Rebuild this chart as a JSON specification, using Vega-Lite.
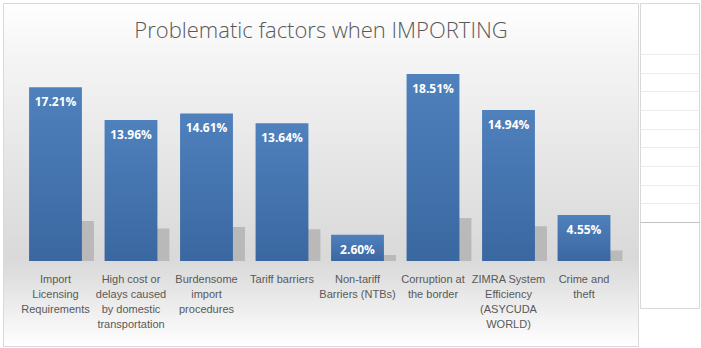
{
  "$schema": "https://vega.github.io/schema/vega-lite/v6.json",
  "background": "#ffffff",
  "padding": {"left": 2, "top": 2, "right": 0, "bottom": 0},
  "spacing": 2,
  "bounds": "flush",
  "config": {"view": {"stroke": "#d9d9d9", "strokeWidth": 1}, "font": "Liberation Sans"},
  "hconcat": [
    {
      "width": 635,
      "height": 343,
      "view": {
        "stroke": "#d9d9d9",
        "fill": {
          "gradient": "linear", "x1": 0, "y1": 0, "x2": 0, "y2": 1,
          "stops": [
            {"offset": 0, "color": "#ffffff"},
            {"offset": 0.15, "color": "#f5f5f5"},
            {"offset": 0.45, "color": "#e6e6e6"},
            {"offset": 0.74, "color": "#d9d9d9"},
            {"offset": 0.8, "color": "#e0e0e0"},
            {"offset": 1, "color": "#ffffff"}
          ]
        }
      },
      "data": {"values": [
        {"factor": "Import|Licensing|Requirements", "value": 0.1721},
        {"factor": "High cost or|delays caused|by domestic|transportation", "value": 0.1396},
        {"factor": "Burdensome|import|procedures", "value": 0.1461},
        {"factor": "Tariff barriers", "value": 0.1364},
        {"factor": "Non-tariff|Barriers (NTBs)", "value": 0.026},
        {"factor": "Corruption at|the border", "value": 0.1851},
        {"factor": "ZIMRA System|Efficiency|(ASYCUDA|WORLD)", "value": 0.1494},
        {"factor": "Crime and|theft", "value": 0.0455}
      ]},
      "encoding": {
        "x": {
          "field": "factor", "type": "nominal", "sort": null,
          "scale": {"range": [14.75, 618.75], "paddingInner": 0.3, "paddingOuter": 0.15},
          "axis": {
            "orient": "bottom", "offset": -85, "title": null, "domain": false, "ticks": false, "tickSize": 0,
            "labelAngle": 0, "labelPadding": 12, "labelFont": "Liberation Sans", "labelFontSize": 11,
            "labelColor": "#595959", "labelLineHeight": 15, "labelBaseline": "top",
            "labelExpr": "split(datum.label, '|')", "labelLimit": 200
          }
        }
      },
      "layer": [
        {
          "mark": {"type": "bar", "color": "#b0b0b0", "opacity": 0.8, "xOffset": 12},
          "encoding": {
            "y": {
              "field": "value", "type": "quantitative", "scale": {"domain": [0, 0.87], "range": [258, 56]},
              "axis": {
                "orient": "left", "labels": false, "ticks": false, "domain": false, "grid": false,
                "title": "Problematic factors when IMPORTING", "titleAngle": 0,
                "titleX": 317.5, "titleY": 34, "titleAlign": "center", "titleBaseline": "alphabetic",
                "titleFont": "Open Sans", "titleFontSize": 22, "titleFontWeight": 300, "titleColor": "#595959",
                "titlePadding": 0
              }
            }
          }
        },
        {
          "mark": {"type": "bar", "color": {
            "gradient": "linear", "x1": 0, "y1": 0, "x2": 0, "y2": 1,
            "stops": [{"offset": 0, "color": "#4f81bd"}, {"offset": 1, "color": "#3a67a0"}]
          }},
          "encoding": {
            "y": {"field": "value", "type": "quantitative", "scale": {"domain": [0, 0.2], "range": [258, 56]}, "axis": null}
          }
        },
        {
          "mark": {"type": "text", "color": "#ffffff", "font": "Open Sans", "fontWeight": "bold", "fontSize": 12, "baseline": "middle", "dy": 15},
          "encoding": {
            "y": {"field": "value", "type": "quantitative", "scale": {"domain": [0, 0.2], "range": [258, 56]}, "axis": null},
            "text": {"field": "value", "type": "quantitative", "format": ".2%"}
          }
        }
      ],
      "resolve": {"scale": {"y": "independent"}}
    },
    {
      "width": 59,
      "height": 305,
      "view": {"stroke": "#d9d9d9", "fill": "#ffffff"},
      "data": {"values": [{"v": 0}]},
      "mark": {"type": "point", "opacity": 0},
      "encoding": {
        "y": {
          "field": "v", "type": "quantitative",
          "scale": {"domain": [-0.61, 15.73], "nice": false, "zero": false},
          "axis": {
            "title": null, "labels": false, "ticks": false, "domain": false, "grid": true,
            "values": [4, 5, 6, 7, 8, 9, 10, 11, 12, 13],
            "gridColor": {"condition": {"test": "datum.value == 4", "value": "#c0c0c0"}, "value": "#ececec"},
            "gridWidth": 1
          }
        }
      }
    }
  ]
}
